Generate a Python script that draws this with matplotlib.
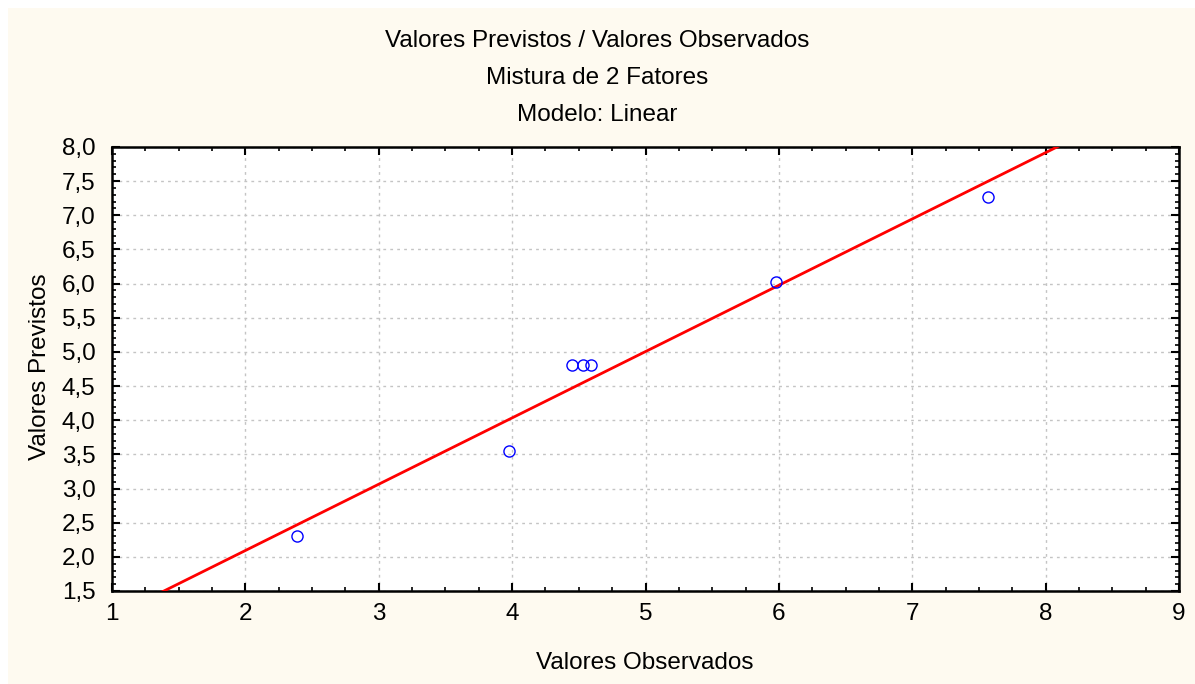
import matplotlib.pyplot as plt
import numpy as np
from matplotlib.patches import Rectangle
from matplotlib.ticker import FuncFormatter, MultipleLocator

observados = [2.39, 3.98, 4.45, 4.53, 4.59, 5.98, 7.57]
previstos = [2.30, 3.55, 4.81, 4.81, 4.81, 6.02, 7.27]

titulo = ["Valores Previstos / Valores Observados", "Mistura de 2 Fatores", "Modelo: Linear"]
x_label = "Valores Observados"
y_label = "Valores Previstos"

fs = 17.5
plt.rcParams["font.family"] = ["Liberation Sans", "DejaVu Sans"]
plt.rcParams["font.size"] = fs

fig = plt.figure(figsize=(11.95, 6.84), dpi=100)
fig.patch.set_facecolor("white")
fig.patches.append(
    Rectangle((8 / 1195, 0), 1, 1 - 8 / 684, transform=fig.transFigure,
              facecolor="#fefaf0", edgecolor="none", zorder=-10)
)

ax = fig.add_axes([112 / 1195, 1 - 591 / 684, (1179 - 112) / 1195, (591 - 147) / 684])
ax.set_facecolor("white")

# linear fit through the points
b, a = np.polyfit(observados, previstos, 1)
xs = np.array([0.0, 10.0])
ax.plot(xs, a + b * xs, color="red", lw=2, zorder=3)
ax.plot(observados, previstos, "o", mfc="none", mec="blue", ms=8, mew=1, zorder=4)

ax.set_xlim(1, 9)
ax.set_ylim(1.5, 8.0)
ax.xaxis.set_major_locator(MultipleLocator(1))
ax.xaxis.set_minor_locator(MultipleLocator(0.25))
ax.yaxis.set_major_locator(MultipleLocator(0.5))
ax.yaxis.set_minor_locator(MultipleLocator(0.1))
ax.xaxis.set_major_formatter(FuncFormatter(lambda v, p: f"{v:.0f}"))
ax.yaxis.set_major_formatter(FuncFormatter(lambda v, p: f"{v:.1f}".replace(".", ",")))

ax.tick_params(which="both", direction="in", top=True, right=True, color="black")
ax.tick_params(which="major", length=6, width=1.5, labelsize=fs)
ax.tick_params(which="minor", length=3, width=1.2)
ax.tick_params(axis="x", which="major", pad=9)
ax.tick_params(axis="y", which="major", pad=12)

for s in ax.spines.values():
    s.set_linewidth(1.8)

ax.grid(True, which="major", linestyle=(0, (2, 3)), color="#c4c4c4", lw=1)
ax.set_axisbelow(True)

for i, t in enumerate(titulo):
    fig.text(0.5, 1 - (41 + 37 * i) / 684, t, ha="center", va="center", fontsize=fs)

fig.text(645 / 1195, 1 - 663 / 684, x_label, ha="center", va="center", fontsize=fs)
fig.text(40 / 1195, 1 - 367 / 684, y_label, ha="center", va="center",
         rotation=90, fontsize=fs)

fig.savefig("out.png", dpi=100, facecolor=fig.get_facecolor())
